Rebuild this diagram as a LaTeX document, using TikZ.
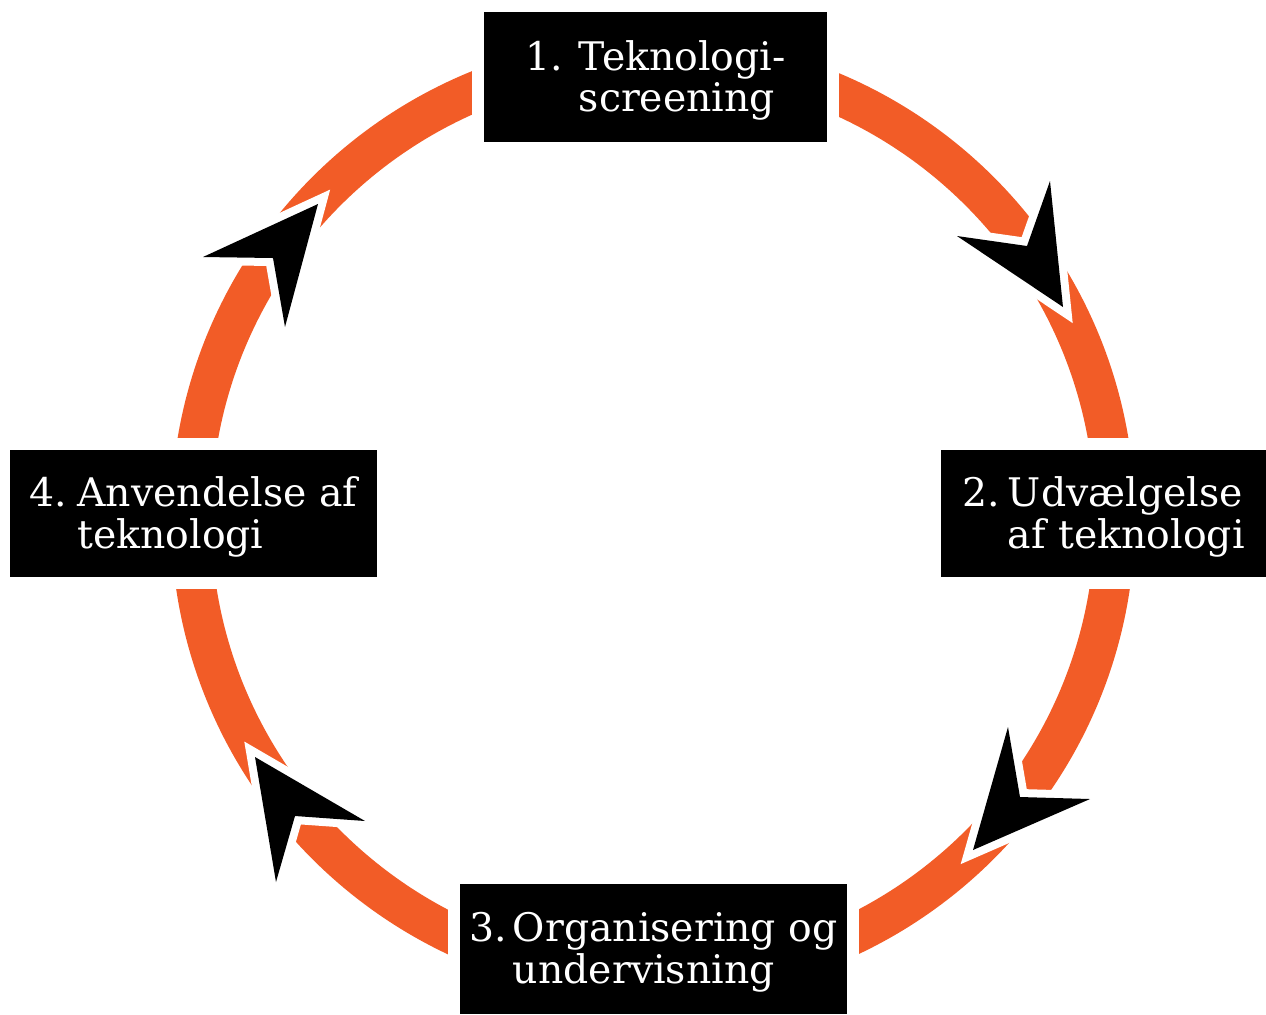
\documentclass[tikz,border=0pt]{standalone}
\usepackage{fontspec}
\setmainfont{DejaVu Serif}
\usepackage{xcolor}
\definecolor{RingOrange}{HTML}{F25C27}
\usepackage{tikz}
\usetikzlibrary{positioning}

% lowered two-line label with hanging number
\newcommand{\steptext}[4]{\raisebox{-0.05cm}[\height][\depth]{%
  \begin{tabular}{@{}l@{\hspace{#4}}l@{}}#1 & #2\\ & #3\end{tabular}}}

\begin{document}
\begin{tikzpicture}[
  x=0.01cm, y=-0.01cm,
  ring/.style={draw=RingOrange, line width=4mm},
  stepbox/.style={rectangle, fill=black, text=white, inner sep=0pt,
                  font=\fontsize{11.2}{11.8}\selectfont, align=left,
                  preaction={draw=white, line width=2.4mm}},
  head/.style={fill=black, preaction={draw=white, line width=1.6mm, line join=miter}},
]
  \useasboundingbox[fill=white] (0,0) rectangle (1266,1014);

  % Ring
  \draw[ring] (653,518) circle[radius=462];

  % Arrow heads
  \fill[head] (1063,307) -- (957,236) -- (1027,246) -- (1050,181) -- cycle;
  \fill[head] (973,850) -- (1008,727) -- (1020,797) -- (1090,799) -- cycle;
  \fill[head] (255,757) -- (365,821) -- (295,816) -- (276,882) -- cycle;
  \fill[head] (318,204) -- (285,327) -- (273,258) -- (203,257) -- cycle;

  % Nodes
  \node[stepbox, minimum width=3.43cm, minimum height=1.30cm] (screen) at (655.5,77)
    {\steptext{1.}{Teknologi-}{screening}{0.16cm}};
  \node[stepbox, minimum width=3.25cm, minimum height=1.27cm] (choose) at (1103.5,513.5)
    {\steptext{2.}{Udvælgelse}{af teknologi}{0.08cm}};
  \node[stepbox, minimum width=3.87cm, minimum height=1.30cm] (teach) at (653.5,949)
    {\steptext{3.}{Organisering og}{undervisning}{0.06cm}};
  \node[stepbox, minimum width=3.67cm, minimum height=1.27cm] (use) at (193.5,513.5)
    {\steptext{4.}{Anvendelse af}{teknologi}{0.1cm}};
\end{tikzpicture}
\end{document}
